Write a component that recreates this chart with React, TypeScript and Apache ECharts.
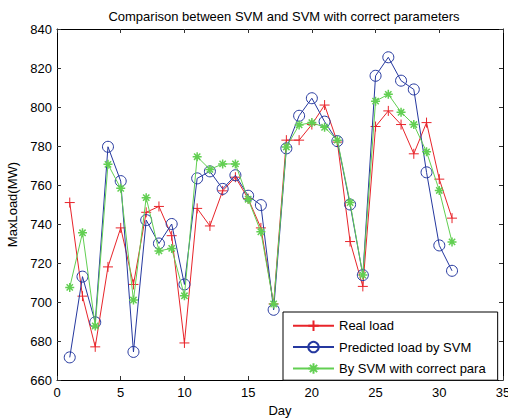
import React, { useEffect, useRef } from "react";
import * as echarts from "echarts";

const days = Array.from({ length: 31 }, (_, i) => i + 1);
const realLoad = [751, 703, 677, 718, 738, 709, 746, 749, 734, 679, 748, 739, 757, 764, 753, 738, 699, 783, 783, 791, 801, 782, 731, 708, 790, 798, 791, 776, 792, 763, 743];
const svmLoad = [671.6, 713, 689.6, 779.6, 762, 674.4, 742, 730, 740, 709, 763.4, 767, 758, 765, 754.5, 749.7, 696, 778.8, 795.5, 804.5, 792.5, 782.5, 750, 713.8, 816, 825.5, 813.5, 809, 766.5, 729, 716];
const svmCorrect = [707.5, 735.5, 687.7, 770.6, 758.3, 701, 753.5, 726.2, 727.5, 703.2, 774.5, 768, 770.8, 770.8, 752.7, 736, 699, 779.5, 790.8, 792, 789.6, 783, 751, 713.8, 803, 806.5, 797.3, 791, 777, 757.2, 730.8];
const xTicks = { min: 0, max: 35, step: 5 };
const yTicks = { min: 660, max: 840, step: 20 };

const RED = "#e8242a";
const BLUE = "#25389f";
const GREEN = "#62cf52";
const FONT = "Liberation Sans";

const plusPath = "path://M5,0 L5,10 M0,5 L10,5";
const starPath = "path://M5,0 L5,10 M0,5 L10,5 M1.5,1.5 L8.5,8.5 M8.5,1.5 L1.5,8.5";

export default function App() {
  const ref = useRef<HTMLDivElement>(null);
  useEffect(() => {
    if (!ref.current) return;
    const chart = echarts.init(ref.current, null, { renderer: "svg" });
    const toPairs = (vals: number[]) => days.map((d, i) => [d, vals[i]]);
    const axisCommon = {
      axisLine: { show: true, onZero: false, lineStyle: { color: "#000", width: 1 } },
      axisTick: { show: true, inside: true, length: 4, lineStyle: { color: "#333" } },
      splitLine: { show: false },
    };
    chart.setOption({
      animation: false,
      backgroundColor: "#fff",
      textStyle: { fontFamily: FONT },
      title: {
        text: "Comparison between SVM and SVM with correct parameters",
        left: 279,
        textAlign: "center",
        top: 5,
        textStyle: { fontSize: 13, fontWeight: "normal", color: "#000", fontFamily: FONT },
      },
      grid: { left: 57, right: 5, top: 29, bottom: 38, containLabel: false, outerBoundsMode: "none" },
      legend: {
        orient: "vertical",
        left: 283,
        top: 312,
        padding: [6, 12, 4, 9],
        itemGap: 6,
        itemWidth: 41,
        itemHeight: 13,
        backgroundColor: "#fff",
        borderColor: "#000",
        borderWidth: 1,
        borderRadius: 0,
        textStyle: { fontSize: 13, color: "#000", fontFamily: FONT },
        data: ["Real load", "Predicted load by SVM", "By SVM with correct para"],
      },
      xAxis: [
        {
          type: "value",
          min: xTicks.min,
          max: xTicks.max,
          interval: xTicks.step,
          position: "bottom",
          name: "Day",
          nameLocation: "middle",
          nameGap: 21,
          nameTextStyle: { fontSize: 13, color: "#000", fontFamily: FONT },
          axisLabel: { fontSize: 13, color: "#000", margin: 6, fontFamily: FONT },
          ...axisCommon,
        },
        {
          type: "value",
          min: xTicks.min,
          max: xTicks.max,
          interval: xTicks.step,
          position: "top",
          axisLabel: { show: false },
          ...axisCommon,
        },
      ],
      yAxis: [
        {
          type: "value",
          min: yTicks.min,
          max: yTicks.max,
          interval: yTicks.step,
          position: "left",
          name: "MaxLoad(MW)",
          nameLocation: "middle",
          nameGap: 34,
          nameTextStyle: { fontSize: 13, color: "#000", fontFamily: FONT },
          axisLabel: { fontSize: 13, color: "#000", margin: 5, fontFamily: FONT },
          ...axisCommon,
        },
        {
          type: "value",
          min: yTicks.min,
          max: yTicks.max,
          interval: yTicks.step,
          position: "right",
          axisLabel: { show: false },
          ...axisCommon,
        },
      ],
      series: [
        {
          name: "Real load",
          type: "line",
          data: toPairs(realLoad),
          symbol: plusPath,
          symbolSize: 10,
          showAllSymbol: true,
          lineStyle: { color: RED, width: 1 },
          itemStyle: { color: "none", borderColor: RED, borderWidth: 1 },
          z: 2,
        },
        {
          name: "Predicted load by SVM",
          type: "line",
          data: toPairs(svmLoad),
          symbol: "circle",
          symbolSize: 11,
          showAllSymbol: true,
          lineStyle: { color: BLUE, width: 1 },
          itemStyle: { color: "none", borderColor: BLUE, borderWidth: 1 },
          z: 3,
        },
        {
          name: "By SVM with correct para",
          type: "line",
          data: toPairs(svmCorrect),
          symbol: starPath,
          symbolSize: 9,
          showAllSymbol: true,
          lineStyle: { color: GREEN, width: 1 },
          itemStyle: { color: "none", borderColor: GREEN, borderWidth: 1.5 },
          z: 4,
        },
      ],
    });
    return () => chart.dispose();
  }, []);
  return (
    <div
      ref={ref}
      style={{ position: "fixed", left: 0, top: 0, width: 508, height: 418, background: "#fff" }}
    />
  );
}
